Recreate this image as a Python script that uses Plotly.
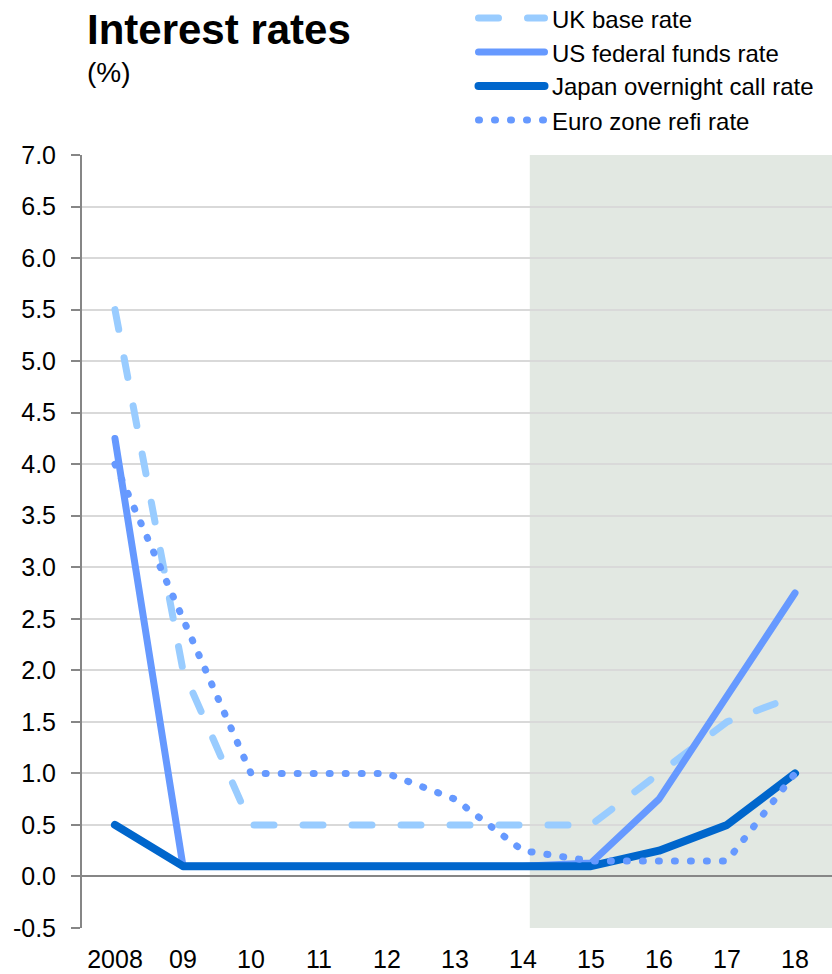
import plotly.graph_objects as go

# ---------------- data ----------------
years = ["2008", "09", "10", "11", "12", "13", "14", "15", "16", "17", "18"]
uk_base_rate = [5.5, 2.0, 0.5, 0.5, 0.5, 0.5, 0.5, 0.5, 1.0, 1.5, 1.75]
us_fed_funds = [4.25, 0.1, 0.1, 0.1, 0.1, 0.1, 0.1, 0.13, 0.75, 1.75, 2.75]
japan_call_rate = [0.5, 0.1, 0.1, 0.1, 0.1, 0.1, 0.1, 0.1, 0.25, 0.5, 1.0]
euro_refi_rate = [4.0, 2.5, 1.0, 1.0, 1.0, 0.75, 0.25, 0.15, 0.15, 0.15, 1.0]
series_names = ["UK base rate", "US federal funds rate",
                "Japan overnight call rate", "Euro zone refi rate"]
y_tick_values = [-0.5, 0.0, 0.5, 1.0, 1.5, 2.0, 2.5, 3.0, 3.5,
                 4.0, 4.5, 5.0, 5.5, 6.0, 6.5, 7.0]
y_tick_labels = ["-0.5", "0.0", "0.5", "1.0", "1.5", "2.0", "2.5", "3.0", "3.5",
                 "4.0", "4.5", "5.0", "5.5", "6.0", "6.5", "7.0"]
forecast_start = 6.1   # shaded forecast region starts just after "14"
title_text = "Interest rates"
unit_text = "(%)"

# ---------------- styles ----------------
W, H = 832, 974
ML, MR, MT, MB = 82, 0, 155, 46
PW, PH = W - ML - MR, H - MT - MB
FONT = "Liberation Sans, Arial, sans-serif"

styles = [
    dict(color="#99CCFF", width=7, dash="20px,29px"),
    dict(color="#6699FF", width=7, dash="solid"),
    dict(color="#0066CC", width=8, dash="solid"),
    dict(color="#6699FF", width=7, dash="1px,15px"),
]
series = [uk_base_rate, us_fed_funds, japan_call_rate, euro_refi_rate]


def px_x(px):
    return (px - ML) / PW


def px_y(py):
    return (H - MB - py) / PH


fig = go.Figure()
for name, vals, st in zip(series_names, series, styles):
    fig.add_trace(go.Scatter(
        x=years, y=vals, mode="lines", name=name,
        line=dict(color=st["color"], width=st["width"], dash=st["dash"]),
        showlegend=False, hoverinfo="x+y+name",
    ))

shapes = [
    dict(type="rect", xref="x", yref="paper", x0=forecast_start, x1=11,
         y0=0, y1=1, fillcolor="#e2e8e2", line=dict(width=0), layer="below"),
]
annotations = [
    dict(text="<b>" + title_text + "</b>", xref="paper", yref="paper",
         x=px_x(85), y=px_y(29), xanchor="left", yanchor="middle",
         showarrow=False, font=dict(family=FONT, size=42, color="#000000")),
    dict(text=unit_text, xref="paper", yref="paper",
         x=px_x(85), y=px_y(73), xanchor="left", yanchor="middle",
         showarrow=False, font=dict(family=FONT, size=28, color="#000000")),
]

legend_y = [18, 52, 86, 120]
for name, st, ly in zip(series_names, styles, legend_y):
    shapes.append(dict(type="line", xref="paper", yref="paper",
                       x0=px_x(478.5), x1=px_x(544.5),
                       y0=px_y(ly), y1=px_y(ly),
                       line=dict(color=st["color"], width=st["width"], dash=st["dash"]),
                       layer="above"))
    annotations.append(dict(text=name, xref="paper", yref="paper",
                            x=px_x(550), y=px_y(ly + 1), xanchor="left", yanchor="middle",
                            showarrow=False,
                            font=dict(family=FONT, size=24, color="#000000")))

fig.update_layout(
    width=W, height=H,
    margin=dict(l=ML, r=MR, t=MT, b=MB, pad=0),
    paper_bgcolor="#ffffff", plot_bgcolor="rgba(0,0,0,0)",
    font=dict(family=FONT, size=24, color="#000000"),
    showlegend=False,
    shapes=shapes, annotations=annotations,
    xaxis=dict(type="category", range=[-0.485, 10.544], showgrid=False,
               zeroline=False, showline=False, ticks="",
               ticklabelstandoff=14,
               tickfont=dict(family=FONT, size=25, color="#000000"),
               fixedrange=True),
    yaxis=dict(range=[-0.5, 7.0], tickmode="array", tickvals=y_tick_values,
               ticktext=y_tick_labels, showgrid=True, gridcolor="#d9d9d9",
               gridwidth=2, zeroline=True, zerolinecolor="#868686",
               zerolinewidth=2, showline=True, linecolor="#868686", linewidth=2,
               ticks="outside", ticklen=9, tickwidth=2, tickcolor="#868686",
               ticklabelstandoff=10,
               tickfont=dict(family=FONT, size=25, color="#000000"),
               fixedrange=True),
)

post = """
var s = document.createElement('style');
s.textContent = 'html, body { margin: 0; padding: 0; } .js-line, .shapelayer path { stroke-linecap: round; stroke-linejoin: round; }';
document.head.appendChild(s);
"""
fig.write_html("out.html", post_script=post, config={"displayModeBar": False})
